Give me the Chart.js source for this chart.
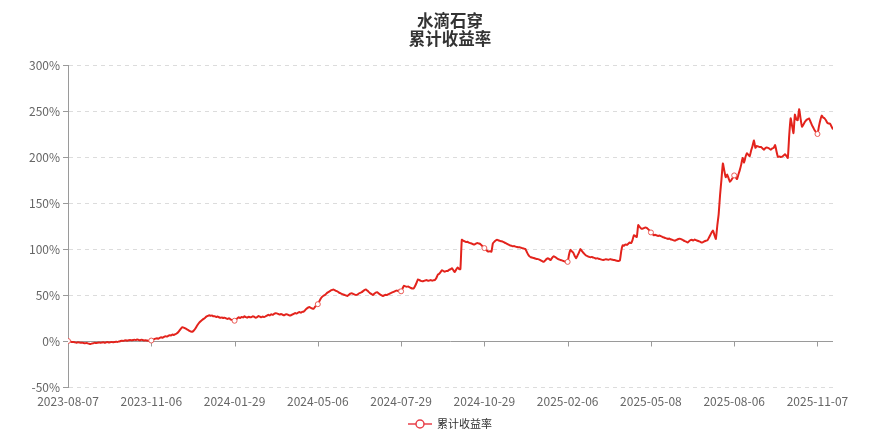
<!DOCTYPE html>
<html>
<head>
<meta charset="utf-8">
<script src="https://cdn.jsdelivr.net/npm/chart.js@4.4.1/dist/chart.umd.min.js"></script>
<style>
  html, body { margin: 0; padding: 0; background: #fff; }
  #wrap { width: 876px; height: 440px; position: relative; }
</style>
</head>
<body>
<div id="wrap"><canvas id="c" width="876" height="440"></canvas></div>
<script>
// ---- data ----
const titleLines = ['水滴石穿', '累计收益率'];
const seriesName = '累计收益率';
const tickDates = ['2023-08-07','2023-11-06','2024-01-29','2024-05-06','2024-07-29','2024-10-29','2025-02-06','2025-05-08','2025-08-06','2025-11-07'];
const tickIndex = [0, 59, 118, 177, 236, 295, 354, 413, 472, 531];
const yTicks = [-50, 0, 50, 100, 150, 200, 250, 300];
const returns = [
  0, -0.3, -0.8, -1.2, -1.0, -1.5, -1.8, -1.4, -1.6, -2.0,
  -1.8, -2.2, -2.5, -2.1, -2.6, -3.0, -3.2, -2.8, -2.4, -2.0,
  -2.3, -1.9, -1.6, -2.0, -1.7, -1.4, -1.8, -1.5, -1.2, -1.6,
  -1.3, -1.0, -1.4, -1.1, -0.8, -1.0, -0.6, -0.2, 0.3, 0.1,
  0.5, 0.8, 0.4, 0.9, 1.2, 0.8, 1.0, 1.4, 1.1, 1.5,
  1.2, 0.9, 1.3, 1.0, 0.6, 0.9, 0.5, 0.2, 0.6, 0.5,
  1.2, 2.0, 2.6, 3.0, 2.5, 3.4, 4.0, 3.6, 4.5, 5.2,
  4.8, 5.6, 6.3, 6.0, 7.0, 6.6, 7.4, 8.2, 9.5, 11.5,
  13.5, 15.0, 14.6, 13.8, 13.0, 12.0, 11.0, 10.4, 10.0, 11.2,
  13.0, 15.5, 18.0, 20.0, 21.5, 22.8, 24.0, 25.0, 26.5, 27.2,
  28.0, 27.4, 27.8, 26.8, 27.0, 26.2, 26.6, 25.8, 25.2, 25.6,
  25.0, 25.4, 24.6, 24.0, 24.8, 23.6, 23.0, 22.6, 22.0, 23.5,
  24.6, 25.8, 25.0, 26.2, 25.6, 26.8, 26.0, 25.4, 26.4, 25.8,
  26.0, 27.0, 26.2, 25.4, 26.0, 27.2, 26.4, 25.8, 26.6, 26.0,
  26.8, 27.6, 28.4, 27.8, 29.0, 28.4, 29.6, 30.2, 30.0, 29.4,
  28.8, 29.4, 28.6, 28.0, 28.8, 29.2, 28.4, 27.8, 28.0, 28.8,
  29.6, 30.4, 29.8, 30.8, 31.4, 30.8, 31.6, 32.0, 33.5, 35.0,
  36.2, 37.0, 36.0, 35.4, 35.0, 37.0, 38.6, 40.0, 43.0, 46.0,
  48.0, 49.2, 50.0, 51.5, 52.8, 53.6, 54.8, 55.4, 56.0, 55.2,
  54.4, 53.8, 52.6, 52.0, 51.2, 50.6, 50.0, 49.4, 49.0, 50.2,
  51.4, 52.0, 51.2, 50.6, 50.0, 50.4, 51.6, 52.4, 53.0, 54.2,
  55.4, 56.0, 54.8, 53.4, 52.0, 51.0, 50.0, 51.4, 52.6, 53.0,
  51.8, 50.6, 49.8, 49.0, 49.6, 50.2, 50.0, 50.8, 51.6, 52.4,
  53.0, 53.6, 54.4, 55.0, 54.2, 55.6, 54.0, 57.0, 60.0, 59.4,
  59.0, 59.2, 58.4, 57.6, 57.0, 57.4, 60.0, 63.5, 67.0, 66.2,
  65.4, 65.0, 65.2, 65.8, 66.4, 65.6, 65.8, 66.2, 65.6, 66.0,
  66.4, 68.5, 72.0, 73.0, 75.0, 77.0, 76.0, 75.4, 76.2, 76.0,
  77.4, 78.0, 79.0, 77.0, 75.0, 77.6, 80.0, 78.4, 78.0, 110.0,
  109.0, 108.2, 107.6, 107.8, 107.0, 106.4, 106.0, 105.2, 105.0, 105.8,
  106.4, 106.0, 105.6, 104.0, 102.6, 101.0, 99.4, 98.0, 97.2, 97.6,
  97.0, 106.0, 107.8, 109.2, 110.0, 109.4, 108.8, 108.4, 108.0, 107.2,
  106.4, 105.6, 104.8, 104.0, 103.6, 103.0, 103.2, 102.6, 102.2, 101.8,
  102.0, 101.4, 100.8, 100.4, 100.0, 97.0, 94.0, 92.0, 91.0, 90.6,
  90.2, 89.6, 89.2, 89.0, 88.4, 87.6, 86.8, 86.0, 87.4, 89.0,
  90.0, 89.0, 88.0, 90.4, 92.0, 91.4, 90.4, 89.2, 88.6, 88.0,
  87.6, 87.0, 86.4, 86.0, 86.0, 94.0, 99.0, 97.4, 96.0, 92.4,
  90.0, 93.0, 96.0, 100.0, 98.0, 96.0, 94.4, 93.0, 92.2, 91.6,
  91.0, 91.4, 90.8, 90.4, 89.6, 90.0, 89.4, 89.0, 88.4, 88.0,
  88.4, 88.8, 88.6, 88.2, 89.0, 88.6, 88.2, 88.0, 87.6, 87.2,
  87.0, 87.4, 98.0, 104.0, 103.6, 105.0, 104.4, 105.8, 107.0, 106.4,
  110.0, 115.0, 114.0, 113.0, 126.0, 124.0, 122.4, 122.0, 122.6, 123.4,
  123.0, 121.6, 120.0, 118.0, 116.4, 115.0, 115.4, 114.8, 114.2, 114.6,
  114.0, 113.2, 112.6, 112.0, 111.6, 111.0, 111.4, 110.6, 110.0, 109.4,
  109.0, 109.8, 110.6, 111.2, 111.0, 110.2, 109.4, 108.6, 108.0, 107.0,
  108.4, 109.6, 110.0, 109.2, 110.2, 109.6, 109.0, 108.4, 107.8, 107.0,
  107.6, 108.4, 109.0, 109.4, 112.0, 115.0, 118.0, 120.0, 115.0, 111.0,
  125.0, 138.0, 159.0, 176.0, 193.0, 185.0, 178.0, 181.0, 177.0, 173.0,
  175.0, 177.4, 180.0, 178.0, 176.0, 181.0, 186.0, 192.0, 199.0, 194.0,
  200.0, 204.0, 202.4, 201.0, 207.0, 212.0, 218.0, 210.0, 212.0, 211.4,
  210.8, 211.0, 209.4, 208.0, 209.6, 210.4, 210.0, 209.0, 208.0, 209.4,
  210.0, 213.0, 206.0, 200.0, 200.6, 200.0, 200.4, 201.6, 203.0, 201.0,
  199.0, 224.0, 242.0, 234.0, 226.0, 246.0, 241.0, 240.0, 252.0, 242.0,
  233.0, 235.0, 238.0, 240.0, 241.0, 242.0, 238.6, 235.0, 232.0, 229.0,
  227.0, 225.0, 233.0, 240.0, 245.0, 243.0, 242.0, 240.0, 237.0, 236.4,
  236.0, 233.0, 230.0
];

// ---- styling ----
const FONT = "'Microsoft YaHei', 'Noto Sans CJK SC', 'Noto Sans', sans-serif";
const RED = '#e3231c';
const AXIS = '#9a9a9a';

const points = returns.map((v, i) => ({ x: i, y: v }));
const radii = returns.map((v, i) => tickIndex.includes(i) ? 2.5 : 0);

const decor = {
  id: 'decor',
  beforeDatasetsDraw(chart) {
    const { ctx, chartArea, scales } = chart;
    const y0 = Math.round(scales.y.getPixelForValue(0)) + 0.5;
    ctx.save();
    ctx.strokeStyle = AXIS;
    ctx.lineWidth = 1;
    ctx.beginPath();
    ctx.moveTo(chartArea.left, y0);
    ctx.lineTo(chartArea.right, y0);
    tickIndex.forEach(i => {
      const x = Math.round(scales.x.getPixelForValue(i)) + 0.5;
      ctx.moveTo(x, y0);
      ctx.lineTo(x, y0 + 5);
    });
    ctx.stroke();
    ctx.restore();
  },
  afterDraw(chart) {
    const { ctx } = chart;
    ctx.save();
    // title
    ctx.fillStyle = '#333';
    ctx.font = 'bold 16.5px ' + FONT;
    ctx.textAlign = 'center';
    ctx.textBaseline = 'middle';
    ctx.fillText(titleLines[0], 450, 20.5);
    ctx.fillText(titleLines[1], 450, 38.5);
    // legend
    const ly = 424;
    ctx.strokeStyle = '#e8404a';
    ctx.lineWidth = 1.5;
    ctx.beginPath();
    ctx.moveTo(408, ly);
    ctx.lineTo(432, ly);
    ctx.stroke();
    ctx.fillStyle = '#fff';
    ctx.beginPath();
    ctx.arc(420, ly, 4, 0, Math.PI * 2);
    ctx.fill();
    ctx.lineWidth = 1.5;
    ctx.stroke();
    ctx.fillStyle = '#333';
    ctx.font = '11px ' + FONT;
    ctx.textAlign = 'left';
    ctx.fillText(seriesName, 437, ly);
    ctx.restore();
  }
};

new Chart(document.getElementById('c'), {
  type: 'line',
  data: {
    datasets: [{
      label: seriesName,
      data: points,
      borderColor: RED,
      borderWidth: 2,
      backgroundColor: '#fff',
      pointRadius: radii,
      pointBorderWidth: 1,
      pointBorderColor: '#ea5a55',
      pointBackgroundColor: '#fff',
      tension: 0.15,
      fill: false
    }]
  },
  options: {
    responsive: false,
    animation: false,
    layout: { padding: { top: 65, right: 43, bottom: 0, left: 0 } },
    plugins: {
      legend: { display: false },
      title: { display: false },
      tooltip: { enabled: false }
    },
    scales: {
      x: {
        type: 'linear',
        min: 0,
        max: returns.length - 1,
        afterBuildTicks: s => { s.ticks = tickIndex.map(v => ({ value: v })); },
        afterFit: s => { s.height = 53; },
        grid: { display: false, drawTicks: false },
        border: { display: false },
        ticks: {
          autoSkip: false,
          maxRotation: 0,
          padding: 7,
          color: '#666',
          font: { size: 12, family: FONT },
          callback: v => tickDates[tickIndex.indexOf(v)]
        }
      },
      y: {
        min: -50,
        max: 300,
        afterBuildTicks: s => { s.ticks = yTicks.map(v => ({ value: v })); },
        afterFit: s => { s.width = 68; },
        grid: {
          color: c => (c.tick && c.tick.value === 0) ? 'rgba(0,0,0,0)' : '#dcdcdc',
          tickColor: AXIS,
          tickLength: 5,
          lineWidth: 1
        },
        border: { display: true, color: AXIS, width: 1, dash: [4, 4] },
        ticks: {
          padding: 3,
          color: '#666',
          font: { size: 12, family: FONT },
          callback: v => v + '%'
        }
      }
    }
  },
  plugins: [decor]
});
</script>
</body>
</html>
